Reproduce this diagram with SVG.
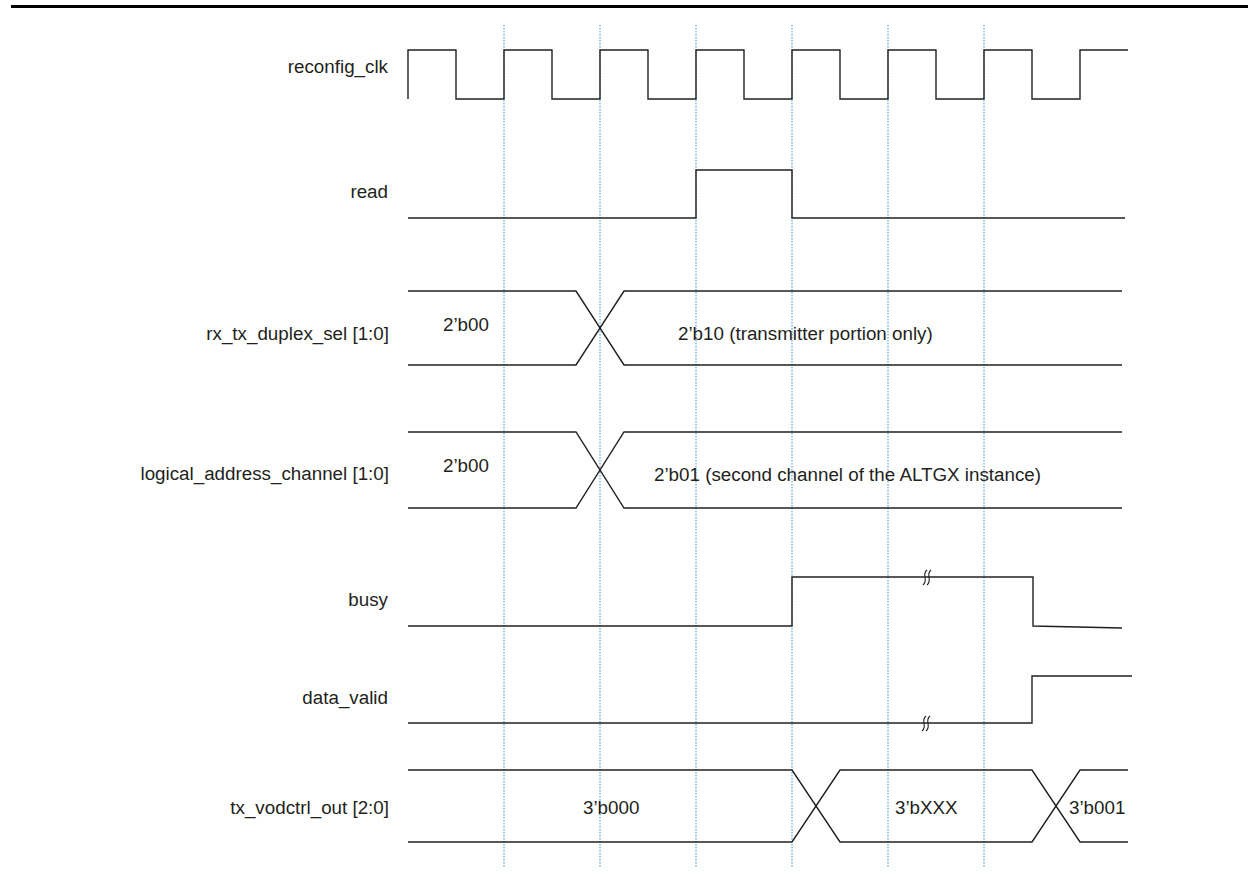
<svg xmlns="http://www.w3.org/2000/svg" width="1248" height="877" viewBox="0 0 1248 877">
<style>
.lbl{font-family:"Liberation Sans",Arial,sans-serif;font-size:18.8px;fill:#231f20}
.r{text-anchor:end}
.w{fill:none;stroke:#231f20;stroke-width:1.4;stroke-linejoin:miter}
.g{fill:none;stroke:#3d8fcc;stroke-width:1;stroke-dasharray:1.5 1.5}
.brk{fill:none;stroke:#231f20;stroke-width:1.1}
</style>
<rect width="1248" height="877" fill="#fff"/>
<line x1="11" y1="6.5" x2="1248" y2="6.5" stroke="#000" stroke-width="3"/>
<g id="grid">
<line class="g" x1="504" y1="25" x2="504" y2="867"/>
<line class="g" x1="600" y1="25" x2="600" y2="867"/>
<line class="g" x1="696" y1="25" x2="696" y2="867"/>
<line class="g" x1="792" y1="25" x2="792" y2="867"/>
<line class="g" x1="888" y1="25" x2="888" y2="867"/>
<line class="g" x1="984" y1="25" x2="984" y2="867"/>
</g>
<g id="reconfig_clk">
<text class="lbl r" x="388" y="73">reconfig_clk</text>
<path class="w" d="M408,99 V50 H456 V99 H504 V50 H552 V99 H600 V50 H648 V99 H696 V50 H744 V99 H792 V50 H840 V99 H888 V50 H936 V99 H984 V50 H1032 V99 H1080 V50 H1128"/>
</g>
<g id="read">
<text class="lbl r" x="388" y="198">read</text>
<path class="w" d="M408,218 H696 V170 H792 V218 H1125"/>
</g>
<g id="rx_tx_duplex_sel">
<text class="lbl r" x="389" y="340">rx_tx_duplex_sel [1:0]</text>
<path class="w" d="M408,291 H576 L624,365 H1122"/>
<path class="w" d="M408,365 H576 L624,291 H1122"/>
<text class="lbl" x="443" y="331">2’b00</text>
<text class="lbl" x="678" y="340">2’b10 (transmitter portion only)</text>
</g>
<g id="logical_address_channel">
<text class="lbl r" x="389" y="480">logical_address_channel [1:0]</text>
<path class="w" d="M408,432 H576 L624,508 H1122"/>
<path class="w" d="M408,508 H576 L624,432 H1122"/>
<text class="lbl" x="443" y="472">2’b00</text>
<text class="lbl" x="654" y="481">2’b01 (second channel of the ALTGX instance)</text>
</g>
<g id="busy">
<text class="lbl r" x="388" y="606">busy</text>
<path class="w" d="M408,626 H792 V577 H1033 V626 L1122,628"/>
<path class="brk" d="M927,570 C921,575 929,580 923,585 M931,570 C925,575 933,580 927,585"/>
</g>
<g id="data_valid">
<text class="lbl r" x="388" y="704">data_valid</text>
<path class="w" d="M408,723 H1032 V676 H1132"/>
<path class="brk" d="M926,716 C920,721 928,726 922,731 M930,716 C924,721 932,726 926,731"/>
</g>
<g id="tx_vodctrl_out">
<text class="lbl r" x="389" y="814">tx_vodctrl_out [2:0]</text>
<path class="w" d="M408,770 H792 L840,842 H1032 L1080,770 H1128"/>
<path class="w" d="M408,842 H792 L840,770 H1032 L1080,842 H1128"/>
<text class="lbl" x="583" y="814">3’b000</text>
<text class="lbl" x="895" y="814">3’bXXX</text>
<text class="lbl" x="1069" y="814">3’b001</text>
</g>
</svg>
